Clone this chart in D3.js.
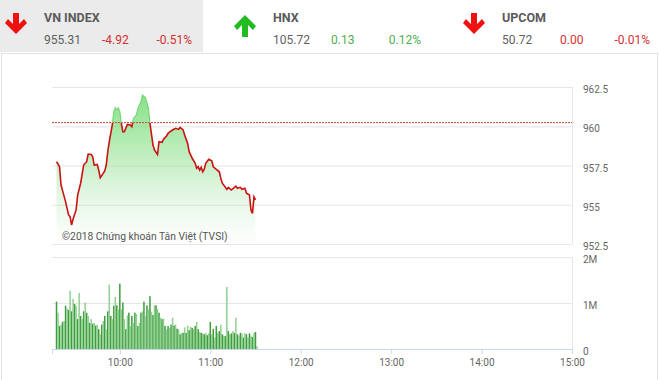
<!DOCTYPE html>
<html><head><meta charset="utf-8">
<script src="https://cdn.jsdelivr.net/npm/d3@7"></script>
<style>
body{margin:0;background:#fff}
svg{display:block}
text{font-family:Roboto,"Noto Sans",sans-serif}
</style>
</head><body>
<svg id="c" width="660" height="380"></svg>
<script>
// ---- header data ----
const indexNames = ["VN INDEX", "HNX", "UPCOM"];
const indexValues = ["955.31", "105.72", "50.72"];
const indexChanges = ["-4.92", "0.13", "0.00"];
const indexPcts = ["-0.51%", "0.12%", "-0.01%"];
const indexDir = [-1, 1, -1];

// ---- price series ----
const priceTimes = ["9:18","9:19","9:20","9:21","9:22","9:24","9:26","9:27","9:28","9:29","9:31","9:32","9:34","9:36","9:38","9:39","9:41","9:42","9:43","9:45","9:46","9:47","9:49","9:50","9:51","9:52","9:53","9:55","9:56","9:57","9:58","9:59","10:00","10:01","10:02","10:03","10:05","10:07","10:08","10:09","10:11","10:12","10:14","10:15","10:17","10:19","10:20","10:22","10:23","10:25","10:26","10:28","10:29","10:31","10:32","10:34","10:35","10:37","10:39","10:40","10:42","10:43","10:45","10:46","10:48","10:50","10:51","10:52","10:53","10:54","10:55","10:56","10:57","10:59","11:01","11:02","11:04","11:06","11:07","11:08","11:10","11:11","11:12","11:14","11:16","11:17","11:18","11:20","11:21","11:23","11:24","11:26","11:27","11:28","11:29","11:30"];
const priceValues = [957.74,957.6,957.42,956.26,955.9,955.2,954.35,954.24,953.7,954.1,954.67,955.6,956.37,957.53,957.74,958.23,958.2,958.06,957.53,957.57,957.2,956.72,957.0,957.15,957.53,958.38,959.02,960.08,960.93,961.18,961.04,961.18,960.93,960.19,959.65,959.65,960.12,960.08,959.97,960.5,960.72,961.14,961.56,961.99,961.82,961.14,960.19,958.8,958.49,958.2,959.02,958.98,959.17,959.38,959.55,959.7,959.76,959.87,959.8,959.93,959.76,959.44,958.91,958.38,957.96,957.64,957.32,957.42,957.2,957.39,957.1,957.26,957.64,957.9,957.8,957.42,957.26,957.1,956.68,956.37,956.11,955.98,956.11,955.94,956.11,956.19,956.05,956.11,955.98,956.05,955.73,955.62,954.67,954.45,955.5,955.31];
const refPrice = 960.23;

// ---- volume series (millions, one bar per minute from volStart) ----
const volStart = "9:18";
const volumes = [1.03,0.79,0.50,0.53,0.59,0.61,0.94,0.88,0.85,1.27,
0.82,1.09,0.98,0.94,0.65,1.22,0.72,0.65,0.82,1.01,
0.79,0.72,0.57,0.65,0.55,0.57,0.51,0.53,0.43,0.32,
0.53,0.61,0.72,0.43,0.82,1.40,0.72,0.65,0.94,1.13,
0.95,0.86,1.42,0.86,1.01,0.65,0.43,0.73,0.79,0.50,
0.72,0.57,0.79,0.76,0.50,0.57,0.79,0.82,1.03,0.72,
0.95,0.86,1.15,0.81,0.74,0.95,0.95,
0.87,0.79,0.68,0.65,0.66,0.50,0.43,0.50,0.46,0.53,
0.68,0.51,0.53,0.44,0.43,0.32,0.35,0.35,0.47,0.35,
0.51,0.41,0.48,0.46,0.43,0.50,0.59,0.43,0.37,0.35,
0.34,0.32,0.35,0.30,0.34,0.59,0.32,0.44,0.25,0.50,
0.35,0.39,0.53,0.32,0.29,0.28,1.35,0.39,0.32,0.34,
0.39,0.35,0.68,0.32,0.29,0.35,0.34,0.25,0.35,0.32,
0.25,0.34,0.29,0.26,0.35,0.37,0.06];

// ---- axis ticks ----
const priceTicks = [952.5, 955, 957.5, 960, 962.5];
const volTicks = [0, 1, 2];
const volTickLabels = ["0", "1M", "2M"];
const timeTicks = ["10:00","11:00","12:00","13:00","14:00","15:00"];
const timeDomain = ["9:15", "15:00"];
const watermark = "©2018 Chứng khoán Tân Việt (TVSI)";

const svg = d3.select("#c");
const parse = d3.timeParse("%H:%M");
const red = "#d32f2f", green = "#4caf50", grey = "#555";

// ---- header ----
svg.append("rect").attr("x",0).attr("y",0).attr("width",203).attr("height",52).attr("fill","#ebebeb");
svg.append("rect").attr("x",1.5).attr("y",53.5).attr("width",656).attr("height",340)
  .attr("fill","none").attr("stroke","#e3e3e3");

const colW = 229;
indexNames.forEach((name,i)=>{
  const x0 = i*colW;
  const cx = x0 + 16;
  const up = indexDir[i] > 0;
  const t = 13, b = 35;
  let pts;
  if (!up) {
    pts = [[cx-3,t],[cx+3,t],[cx+3,b-11],[cx+8,b-16],[cx+11,b-12],[cx,b-1],[cx-11,b-12],[cx-8,b-16],[cx-3,b-11]];
  } else {
    const t2 = 14, b2 = 37;
    pts = [[cx-3,b2],[cx+3,b2],[cx+3,t2+11],[cx+8,t2+16],[cx+11,t2+12],[cx,t2+1],[cx-11,t2+12],[cx-8,t2+16],[cx-3,t2+11]];
  }
  svg.append("polygon").attr("points", pts.map(p=>p.join(",")).join(" "))
    .attr("fill", up ? "#22bb22" : "#ee1111");
  const lx = x0 + 44;
  const col = indexDir[i] > 0 ? green : red;
  svg.append("text").attr("x",lx).attr("y",22).text(name)
    .attr("font-size",12.5).attr("font-weight","bold").attr("fill","#5a5a5a");
  svg.append("text").attr("x",lx).attr("y",44).text(indexValues[i])
    .attr("font-size",12).attr("fill","#5f5f5f");
  svg.append("text").attr("x",lx+58).attr("y",44).text(indexChanges[i])
    .attr("font-size",12).attr("fill",col);
  svg.append("text").attr("x",lx+148).attr("y",44).text(indexPcts[i])
    .attr("font-size",12).attr("fill",col).attr("text-anchor","end");
});

// ---- scales ----
const x = d3.scaleTime().domain(timeDomain.map(parse)).range([52,572]);
const y = d3.scaleLinear().domain([952.5,962.5]).range([244,87]);
const yv = d3.scaleLinear().domain([0,2]).range([349,257]);

const price = priceTimes.map((t,i)=>({t:parse(t), v:priceValues[i]}));
const vStart = parse(volStart);
const vol = volumes.map((v,i)=>({t:d3.timeMinute.offset(vStart,i), v}));

// ---- price grid & axis ----
const gGrid = svg.append("g").attr("transform","translate(572,0)")
  .call(d3.axisLeft(y).tickValues(priceTicks).tickSize(520).tickFormat(""));
gGrid.select(".domain").remove();
gGrid.selectAll("line").attr("stroke","#e6e6e6");
svg.append("line").attr("x1",572.5).attr("x2",572.5).attr("y1",y(962.5)).attr("y2",y(952.5)).attr("stroke","#e6e6e6");

const gY = svg.append("g").attr("transform","translate(583,0)")
  .call(d3.axisRight(y).tickValues(priceTicks).tickSize(0).tickPadding(0).tickFormat(d3.format("")));
gY.select(".domain").remove();
gY.selectAll("text").attr("font-size",10).attr("fill","#666").attr("dy","0.55em").attr("font-family","Roboto,sans-serif");

// ---- area fill ----
const defs = svg.append("defs");
const grad = defs.append("linearGradient").attr("id","gfill").attr("gradientUnits","userSpaceOnUse")
  .attr("x1",0).attr("x2",0).attr("y1",y(962.5)).attr("y2",y(952.5));
grad.append("stop").attr("offset",0).attr("stop-color","#6fdc6f").attr("stop-opacity",0.9);
grad.append("stop").attr("offset",0.45).attr("stop-color","#8fe08f").attr("stop-opacity",0.55);
grad.append("stop").attr("offset",1).attr("stop-color","#cdeccd").attr("stop-opacity",0.05);

svg.append("path").datum(price)
  .attr("d", d3.area().x(d=>x(d.t)).y0(y(952.5)).y1(d=>y(d.v)))
  .attr("fill","url(#gfill)");

// watermark
svg.append("text").attr("x",62).attr("y",240).text(watermark)
  .attr("font-size",10.3).attr("fill","#555");

// reference line
svg.append("line").attr("x1",52).attr("x2",572).attr("y1",y(refPrice)).attr("y2",y(refPrice))
  .attr("stroke","#c83c3c").attr("stroke-dasharray","2,1").attr("stroke-width",1);

// line: red below ref, green above
defs.append("clipPath").attr("id","below").append("rect")
  .attr("x",0).attr("width",660).attr("y",y(refPrice)).attr("height",300);
defs.append("clipPath").attr("id","above").append("rect")
  .attr("x",0).attr("width",660).attr("y",0).attr("height",y(refPrice));
const lineGen = d3.line().x(d=>x(d.t)).y(d=>y(d.v));
svg.append("path").datum(price).attr("d",lineGen).attr("fill","none")
  .attr("stroke","#cc1111").attr("stroke-width",1.6).attr("clip-path","url(#below)");
svg.append("path").datum(price).attr("d",lineGen).attr("fill","none")
  .attr("stroke","#7ad67a").attr("stroke-width",1.2).attr("clip-path","url(#above)");

// ---- volume grid ----
const gVG = svg.append("g").attr("transform","translate(572,0)")
  .call(d3.axisLeft(yv).tickValues(volTicks.slice(1)).tickSize(520).tickFormat(""));
gVG.select(".domain").remove();
gVG.selectAll("line").attr("stroke","#e6e6e6");
svg.append("line").attr("x1",572.5).attr("x2",572.5).attr("y1",yv(2)).attr("y2",yv(0)).attr("stroke","#e6e6e6");

const gVY = svg.append("g").attr("transform","translate(583,0)")
  .call(d3.axisRight(yv).tickValues(volTicks).tickSize(0).tickPadding(0).tickFormat((d,i)=>volTickLabels[i]));
gVY.select(".domain").remove();
gVY.selectAll("text").attr("font-size",10).attr("fill","#666").attr("dy","0.55em").attr("font-family","Roboto,sans-serif");

// bars
svg.append("g").selectAll("rect").data(vol).join("rect")
  .attr("x", d=>x(d.t)-0.75).attr("width",1.5)
  .attr("y", d=>yv(d.v)).attr("height", d=>yv(0)-yv(d.v))
  .attr("fill", (d,i)=> i%2 ? "#8fd18f" : "#3f9d3f");

// x axis
const gX = svg.append("g").attr("transform",`translate(0,${yv(0)})`)
  .call(d3.axisBottom(x).tickValues(timeTicks.map(parse)).tickSize(5).tickFormat(d3.timeFormat("%H:%M")));
gX.select(".domain").attr("stroke","#ccd6eb");
gX.selectAll("line").attr("stroke","#ccd6eb");
gX.selectAll("text").attr("font-size",10).attr("fill","#666").attr("font-family","Roboto,sans-serif").attr("dy","0.9em");
</script>
</body></html>
